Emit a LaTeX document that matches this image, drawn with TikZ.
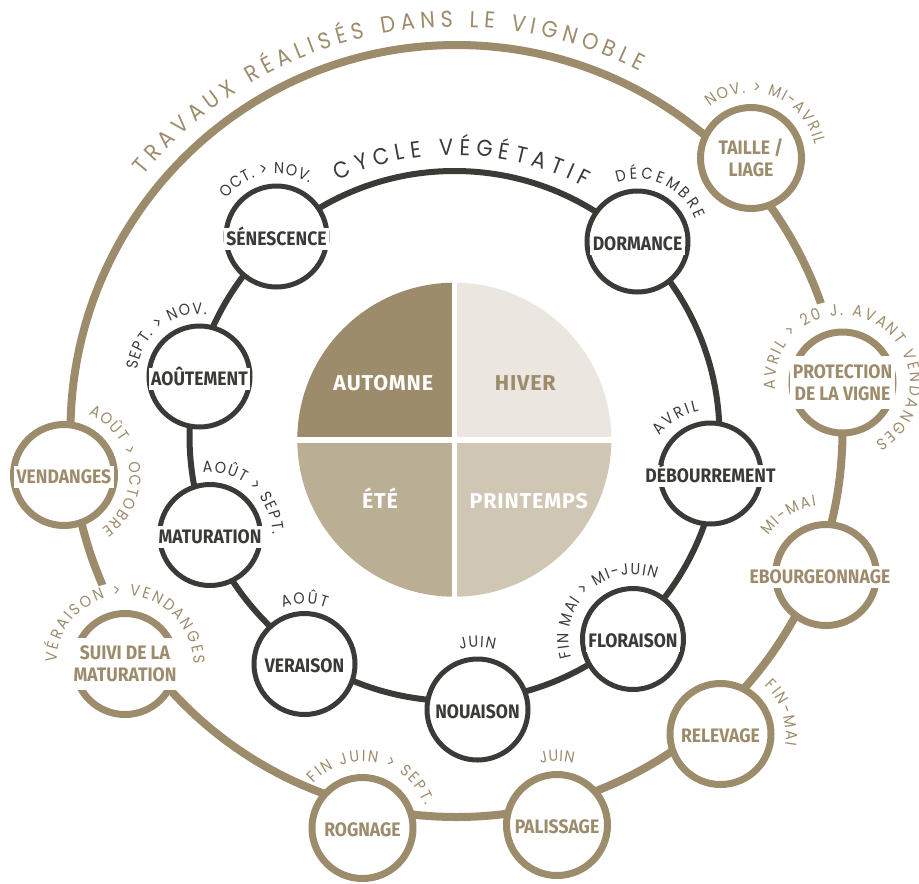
\documentclass[tikz,border=0pt]{standalone}
\usepackage{fontspec}
\usetikzlibrary{decorations.text}
\newfontfamily\labfont{Fira Sans}[FakeStretch=0.9]
\newfontfamily\piefont{Fira Sans}[LetterSpace=4]
\newfontfamily\datefont{Poppins}[FakeStretch=0.9]
\newcommand{\dfmt}{\datefont\fontsize{16}{16}\selectfont}
\newcommand{\tfmt}{\datefont\fontsize{23}{23}\selectfont}
\definecolor{dark}{HTML}{3B3A37}
\definecolor{vtan}{HTML}{9C8C6C}
\definecolor{autumn}{HTML}{9C8C6C}
\definecolor{winter}{HTML}{EBE6E0}
\definecolor{summer}{HTML}{BAAE95}
\definecolor{spring}{HTML}{CFC6B4}
\begin{document}
\begin{tikzpicture}[x=1pt,y=1pt,
  inode/.style={circle, draw=dark, line width=5pt, fill=white, minimum size=101pt, inner sep=0pt, outer sep=0pt},
  onode/.style={circle, draw=vtan, line width=7pt, fill=white, minimum size=101pt, inner sep=0pt, outer sep=0pt},
  lab/.style={font=\labfont\bfseries\fontsize{19.5}{22}\selectfont, fill=white, inner xsep=2.5pt, inner ysep=4.25pt, text height=13.5pt, text depth=0pt, yshift=-2pt},
  ilab/.style={lab, text=dark},
  olab/.style={lab, text=vtan},
  mlab/.style={font=\labfont\bfseries\fontsize{19.5}{22}\selectfont, fill=white, align=center, inner xsep=2.5pt, inner ysep=8pt, text=vtan},
  pielab/.style={font=\piefont\bfseries\fontsize{21.5}{24}\selectfont, inner sep=0pt, text height=15pt, text depth=0pt},
  arctext/.style 2 args={decorate, decoration={text along path, text color=#1, text align={fit to path}, text={#2}}},
  halo/.style={draw=white, line width=32pt}
]
\useasboundingbox (0,0) rectangle (919,-884);
\fill[white] (0,0) rectangle (919,-884);

% pie
\coordinate (pc) at (454.3,-439.7);
\fill[autumn] (pc) -- ++(180:157) arc[start angle=180, end angle=90, radius=157] -- cycle;
\fill[winter] (pc) -- ++(90:157) arc[start angle=90, end angle=0, radius=157] -- cycle;
\fill[spring] (pc) -- ++(0:157) arc[start angle=0, end angle=-90, radius=157] -- cycle;
\fill[summer] (pc) -- ++(-90:157) arc[start angle=-90, end angle=-180, radius=157] -- cycle;
\draw[white, line width=6pt] (pc) ++(-160,0) -- ++(320,0);
\draw[white, line width=5pt] (pc) ++(0,-160) -- ++(0,320);
\node[pielab, text=white] (aut) at (383.3,-382.5) {AUTOMNE};
\node[pielab, text=vtan]  (hiv) at (525.3,-382.5) {HIVER};
\node[pielab, text=white] (ete) at (380,-500.5) {ÉTÉ};
\node[pielab, text=white] (pri) at (528.7,-500.5) {PRINTEMPS};

% rings
\coordinate (ic) at (454.5,-436);
\coordinate (oc) at (456.5,-431);
\draw[dark, line width=6pt] (ic) circle[radius=265];
\draw[vtan, line width=8pt] (oc) circle[radius=386];

% node centres
\coordinate (sui0) at (125,-664);
\coordinate (pro0) at (842.5,-382.5);
\draw[halo] (sui0) ++(180:66) arc[start angle=180, end angle=-2, radius=66];
\draw[halo] (pro0) ++(187:66) arc[start angle=187, end angle=-62, radius=66];

% inner nodes
\node[inode] (sen) at (276.5,-236.5) {};
\node[inode] (dor) at (637.5,-241.5) {};
\node[inode] (deb) at (710.5,-473.5) {};
\node[inode] (flo) at (633,-639) {};
\node[inode] (nou) at (477.5,-709.5) {};
\node[inode] (ver) at (304.5,-664) {};
\node[inode] (mat) at (210,-535) {};
\node[inode] (aou) at (199.5,-376.5) {};
\node[ilab] at (sen) {SÉNESCENCE};
\node[ilab] at (dor) {DORMANCE};
\node[ilab] at (deb) {DÉBOURREMENT};
\node[ilab] at (flo) {FLORAISON};
\node[ilab] at (nou) {NOUAISON};
\node[ilab] at (ver) {VERAISON};
\node[ilab] at (mat) {MATURATION};
\node[ilab] at (aou) {AOÛTEMENT};

% outer nodes
\node[onode] (tai) at (751,-158) {};
\node[onode] (pro) at (pro0) {};
\node[onode] (ebo) at (826,-575) {};
\node[onode] (rel) at (720.5,-734) {};
\node[onode] (pal) at (557,-825) {};
\node[onode] (rog) at (362.5,-828) {};
\node[onode] (sui) at (sui0) {};
\node[onode] (ven) at (64,-475) {};
\node[mlab] at (tai) {TAILLE /\\LIAGE};
\node[mlab] at (pro) {PROTECTION\\DE LA VIGNE};
\node[olab, xshift=-6pt] at (ebo) {EBOURGEONNAGE};
\node[olab] at (rel) {RELEVAGE};
\node[olab] at (pal) {PALISSAGE};
\node[olab] at (rog) {ROGNAGE};
\node[mlab] at (sui) {SUIVI DE LA\\MATURATION};
\node[olab] at (ven) {VENDANGES};

% titles
\path[arctext={vtan}{|\tfmt|TRAVAUX RÉALISÉS DANS LE VIGNOBLE}] (oc) ++(140.7:404) arc[start angle=140.7, end angle=63, radius=404];
\path[arctext={dark}{|\tfmt|CYCLE VÉGÉTATIF}] (ic) ++(114.5:281) arc[start angle=114.5, end angle=62.3, radius=281];

% inner dates
\path[arctext={dark}{|\dfmt|OCT. > NOV.}] (sen.center) ++(143:62.5) arc[start angle=143, end angle=58.5, radius=62.5];
\path[arctext={dark}{|\dfmt|DÉCEMBRE}] (dor.center) ++(109:62.5) arc[start angle=109, end angle=21, radius=62.5];
\path[arctext={dark}{|\dfmt|AVRIL}] (deb.center) ++(143.5:63.5) arc[start angle=143.5, end angle=100.5, radius=63.5];
\path[arctext={dark}{|\dfmt|FIN MAI > MI-JUIN}] (flo.center) ++(196.5:64.5) arc[start angle=196.5, end angle=69, radius=64.5];
\path[arctext={dark}{|\dfmt|JUIN}] (nou.center) ++(106:62.5) arc[start angle=106, end angle=74, radius=62.5];
\path[arctext={dark}{|\dfmt|AOÛT}] (ver.center) ++(111:60.5) arc[start angle=111, end angle=69, radius=60.5];
\path[arctext={dark}{|\dfmt|AOÛT > SEPT.}] (mat.center) ++(96.5:62.5) arc[start angle=96.5, end angle=0.5, radius=62.5];
\path[arctext={dark}{|\dfmt|SEPT. > NOV.}] (aou.center) ++(174:62.5) arc[start angle=174, end angle=83.5, radius=62.5];

% outer dates
\path[arctext={vtan}{|\dfmt|NOV. > MI-AVRIL}] (tai.center) ++(129:65.5) arc[start angle=129, end angle=11.5, radius=65.5];
\path[arctext={vtan}{|\dfmt|AVRIL > 20 J. AVANT VENDANGES}] (pro.center) ++(186:67.5) arc[start angle=186, end angle=-61, radius=67.5];
\path[arctext={vtan}{|\dfmt|MI-MAI}] (ebo.center) ++(146:69.5) arc[start angle=146, end angle=98, radius=69.5];
\path[arctext={vtan}{|\dfmt|FIN-MAI}] (rel.center) ++(47.5:65.5) arc[start angle=47.5, end angle=-10, radius=65.5];
\path[arctext={vtan}{|\dfmt|JUIN}] (pal.center) ++(105:63.5) arc[start angle=105, end angle=75, radius=63.5];
\path[arctext={vtan}{|\dfmt|FIN JUIN > SEPT.}] (rog.center) ++(137.5:66.5) arc[start angle=137.5, end angle=19.5, radius=66.5];
\path[arctext={vtan}{|\dfmt|VÉRAISON > VENDANGES}] (sui.center) ++(178.5:68.5) arc[start angle=178.5, end angle=0, radius=68.5];
\path[arctext={vtan}{|\dfmt|AOÛT > OCTOBRE}] (ven.center) ++(68:65.5) arc[start angle=68, end angle=-55, radius=65.5];
\end{tikzpicture}
\end{document}
